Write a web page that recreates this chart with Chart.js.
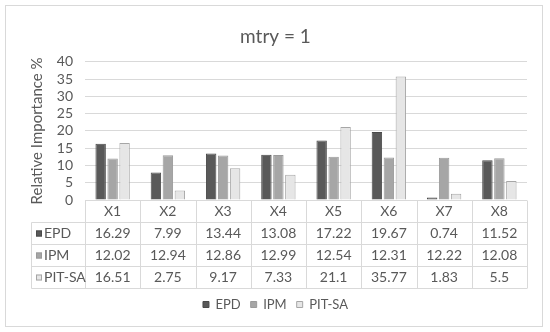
<!DOCTYPE html>
<html lang="en">
<head>
	<meta charset="UTF-8">
	<title>mtry = 1</title>
	<script src="https://cdn.jsdelivr.net/npm/chart.js"></script>
	<style>
		body { margin: 0; background: #fff; }
	</style>
</head>
<body>
	<canvas id="bar-chart" width="550" height="332"></canvas>

	<script>
		// values
		const categories = ['X1', 'X2', 'X3', 'X4', 'X5', 'X6', 'X7', 'X8'];
		const epd = [16.29, 7.99, 13.44, 13.08, 17.22, 19.67, 0.74, 11.52];
		const ipm = [12.02, 12.94, 12.86, 12.99, 12.54, 12.31, 12.22, 12.08];
		const pitSa = [16.51, 2.75, 9.17, 7.33, 21.1, 35.77, 1.83, 5.5];
		const seriesNames = ['EPD', 'IPM', 'PIT-SA'];

		const textColor = '#595959';
		const lineColor = '#d9d9d9';
		const fontFamily = "Lato, 'Open Sans', sans-serif";
		const rowH = 22;

		// frame + data table under the plot
		const tablePlugin = {
			id: 'dataTable',
			beforeDraw(chart) {
				const ctx = chart.ctx;
				ctx.save();
				ctx.fillStyle = '#fff';
				ctx.fillRect(0, 0, chart.width, chart.height);
				ctx.strokeStyle = '#d9d9d9';
				ctx.lineWidth = 1;
				ctx.strokeRect(5.5, 5.5, 537, 321);
				ctx.restore();
			},
			afterDraw(chart) {
				const ctx = chart.ctx;
				const x = chart.scales.x;
				const area = chart.chartArea;
				const colW = (x.right - x.left) / categories.length;
				const top = Math.round(area.bottom) + 0.5;
				const labelLeft = 31.5;
				ctx.save();
				ctx.strokeStyle = lineColor;
				ctx.lineWidth = 1;
				ctx.font = '14px ' + fontFamily;
				ctx.fillStyle = textColor;
				ctx.textBaseline = 'middle';

				// horizontal lines
				ctx.beginPath();
				ctx.moveTo(x.left, top);
				ctx.lineTo(x.right, top);
				for (let r = 1; r <= 4; r++) {
					ctx.moveTo(labelLeft, top + r * rowH);
					ctx.lineTo(x.right, top + r * rowH);
				}
				// vertical lines
				for (let c = 0; c <= categories.length; c++) {
					const px = Math.round(x.left + c * colW) + 0.5;
					ctx.moveTo(px, top);
					ctx.lineTo(px, top + 4 * rowH);
				}
				ctx.moveTo(labelLeft, top + rowH);
				ctx.lineTo(labelLeft, top + 4 * rowH);
				ctx.stroke();

				// header
				ctx.textAlign = 'center';
				categories.forEach((c, i) => {
					ctx.fillText(c, x.getPixelForValue(i), top + rowH / 2);
				});

				// rows
				chart.data.datasets.forEach((ds, r) => {
					const cy = top + (r + 1) * rowH + rowH / 2;
					ctx.fillStyle = ds.backgroundColor;
					ctx.fillRect(36, cy - 3, 6, 6);
					ctx.strokeStyle = ds.borderColor;
					ctx.strokeRect(36.5, cy - 2.5, 5, 5);
					ctx.fillStyle = textColor;
					ctx.textAlign = 'left';
					ctx.fillText(ds.label, 44, cy);
					ctx.textAlign = 'center';
					ds.data.forEach((v, i) => {
						ctx.fillText(String(v), x.getPixelForValue(i), cy);
					});
				});
				ctx.restore();
			}
		};

		const chart = new Chart(document.getElementById('bar-chart'), {
			type: 'bar',
			data: {
				labels: categories,
				datasets: [{
					label: seriesNames[0],
					data: epd,
					backgroundColor: '#595959',
					borderColor: '#4a4a4a',
					borderWidth: 1
				}, {
					label: seriesNames[1],
					data: ipm,
					backgroundColor: '#a6a6a6',
					borderColor: '#9a9a9a',
					borderWidth: 1
				}, {
					label: seriesNames[2],
					data: pitSa,
					backgroundColor: '#e6e6e6',
					borderColor: '#a6a6a6',
					borderWidth: 1
				}]
			},
			options: {
				responsive: false,
				animation: false,
				barPercentage: 0.87,
				categoryPercentage: 0.65,
				layout: {
					padding: { left: 24, right: 23, top: 13, bottom: 11 }
				},
				plugins: {
					title: {
						display: true,
						text: 'mtry = 1',
						color: textColor,
						font: { family: fontFamily, size: 19, weight: 'normal' },
						padding: { top: 12, bottom: 14 }
					},
					legend: {
						display: true,
						position: 'bottom',
						labels: {
							color: textColor,
							boxWidth: 6,
							boxHeight: 6,
							padding: 10,
							font: { family: fontFamily, size: 13 }
						}
					},
					tooltip: { enabled: false }
				},
				scales: {
					x: {
						grid: { display: false },
						border: { display: false },
						ticks: { display: false },
						afterFit: s => { s.height = 4 * rowH; }
					},
					y: {
						min: 0,
						max: 40,
						ticks: {
							stepSize: 5,
							autoSkip: false,
							color: textColor,
							padding: 12,
							font: { family: fontFamily, size: 14 }
						},
						grid: { color: lineColor, drawTicks: false },
						border: { display: false },
						title: {
							display: true,
							text: 'Relative Importance %',
							color: textColor,
							font: { family: fontFamily, size: 15 }
						},
						afterFit: s => { s.width = 61; }
					}
				}
			},
			plugins: [tablePlugin]
		});
	</script>
</body>
</html>
